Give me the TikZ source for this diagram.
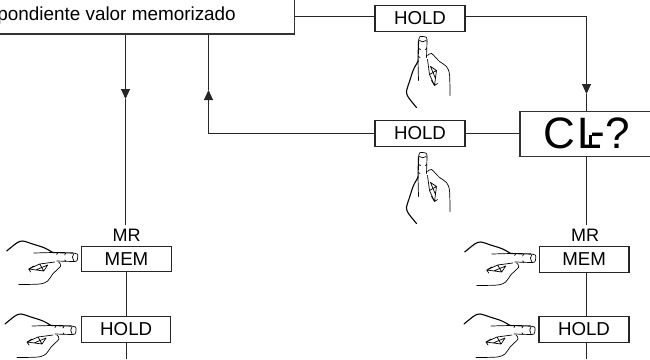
\documentclass[tikz,border=0pt]{standalone}
\usepackage{fontspec}
\setmainfont{Liberation Sans}
\usetikzlibrary{arrows.meta}
\tikzset{
  x=1pt,y=-1pt,
  key/.style={draw=black!85,line width=1.1pt,fill=white,minimum width=90pt,minimum height=25.5pt,inner sep=0pt,font=\fontsize{18.7}{20}\selectfont},
  panel/.style={draw=black!80,line width=1.3pt,inner sep=0pt},
  link/.style={draw=black!85,line width=1pt},
  flow/.style={link,-{Triangle[length=10pt,width=9pt]}},
  ink/.style={draw=black,line width=0.7pt,line cap=round,line join=round},
  inkbold/.style={draw=black,line width=1.1pt,line cap=round,line join=round},
  pics/hand/.style={code={
    % outline of a pointing hand, fingertip at the local origin, finger upward
    \draw[ink] plot[smooth,tension=0.6] coordinates {(-4,5) (-3,0.5) (0,0) (4,1) (4.5,5)};
    \draw[ink] (-3.2,4) to[bend right=40] (3.6,4);
    \draw[inkbold] (-4,5) -- (-4.5,25);
    \draw[ink] (-4.5,25) -- (-4,44);
    \draw[ink] (-4,12) -- (-2,13) (-4.3,20) -- (-2.5,21) (4.4,12) -- (2.8,13);
    \draw[ink] (4.5,5) -- (4,21);
    \draw[inkbold] plot[smooth,tension=0.5] coordinates {(-4.5,25) (-9,33) (-13,45) (-16,55) (-14,61) (-6,71)};
    \draw[ink] plot[smooth,tension=0.5] coordinates {(5,19) (9,17) (17,25) (24,30) (27,38) (27.5,59)};
    \draw[ink] (5,23) -- (7,38) -- (12,49) -- (14,34) -- (8,30) -- (13,42) (7,38) -- (14,34) (12,49) -- (15,47) (9,44) -- (12,49);
  }}
}
\begin{document}
\begin{tikzpicture}
  \useasboundingbox (0,0) rectangle (650,359);
  \clip (0,0) rectangle (650,359);

  % display panels
  \node[panel,minimum width=320pt,minimum height=50pt] (top) at (134.5,9) {};
  \node[anchor=base east,inner sep=0pt,font=\fontsize{18.9}{20}\selectfont] (msg) at (236,20) {pondiente valor memorizado};
  \node[panel,minimum width=140pt,minimum height=44.5pt] (ask) at (590,134) {};
  \node[anchor=base west,inner sep=0pt,font=\fontsize{44}{46}\selectfont] (asktxt) at (543,148) {C\kern2.2pt L\kern-11.5pt \raisebox{2pt}{-}\kern0.4pt ?};
  \draw[black,line width=3pt] (590,135) -- (590,147);

  % keys
  \node[key] (holdA) at (420,18.5) {HOLD};
  \node[key] (holdB) at (420,133.5) {HOLD};
  \node[key] (memL) at (126.5,259) {MEM};
  \node[key,minimum width=89pt] (holdL) at (126.2,329.5) {HOLD};
  \node[key,minimum width=89.5pt] (memR) at (584.2,259.5) {MEM};
  \node[key,minimum width=90pt] (holdR) at (584,329.5) {HOLD};
  \node[inner sep=0pt,minimum height=20pt,font=\fontsize{18}{20}\selectfont] (mrL) at (126.7,235) {MR};
  \node[inner sep=0pt,minimum height=20pt,font=\fontsize{18}{20}\selectfont] (mrR) at (585,235) {MR};

  % free ends, bends and arrow tips
  \coordinate (tipA) at (125.5,99);
  \coordinate (tipB) at (208.5,90);
  \coordinate (tipC) at (586.5,94);
  \coordinate (endL) at (126,359);
  \coordinate (endR) at (586,359);
  \coordinate (cornerA) at (586.5,16.5);
  \coordinate (cornerB) at (208.5,133.5);
  \coordinate (rightA) at (586,272);

  % connectors
  \draw[link] (top.east |- cornerA) -- (holdA.west |- cornerA);
  \draw[link] (holdA.east |- cornerA) -- (cornerA);
  \draw[flow] (cornerA) -- (tipC);
  \draw[link] (tipC) -- (tipC |- ask.north);
  \draw[link] (ask.west |- cornerB) -- (holdB.east);
  \draw[link] (holdB.west) -- (cornerB);
  \draw[flow] (cornerB) -- (tipB);
  \draw[link] (tipB) -- (tipB |- top.south);
  \draw[flow] (tipA |- top.south) -- (tipA);
  \draw[link] (tipA) -- (tipA |- mrL.north);
  \draw[link] (endL |- memL.south) -- (endL |- holdL.north);
  \draw[link] (holdL.south -| endL) -- (endL);
  \draw[link] (endR |- ask.south) -- (endR |- mrR.north);
  \draw[link] (rightA) -- (endR |- holdR.north);
  \draw[link] (holdR.south -| endR) -- (endR);

  % hands pressing the keys
  \pic at (422.5,36.5) {hand};
  \pic at (422.5,152.5) {hand};
  \pic[rotate=-90] at (77.7,257) {hand};
  \pic[rotate=-90] at (76,330) {hand};
  \pic[rotate=-90] at (535.7,258) {hand};
  \pic[rotate=-90] at (535,330) {hand};
\end{tikzpicture}
\end{document}
